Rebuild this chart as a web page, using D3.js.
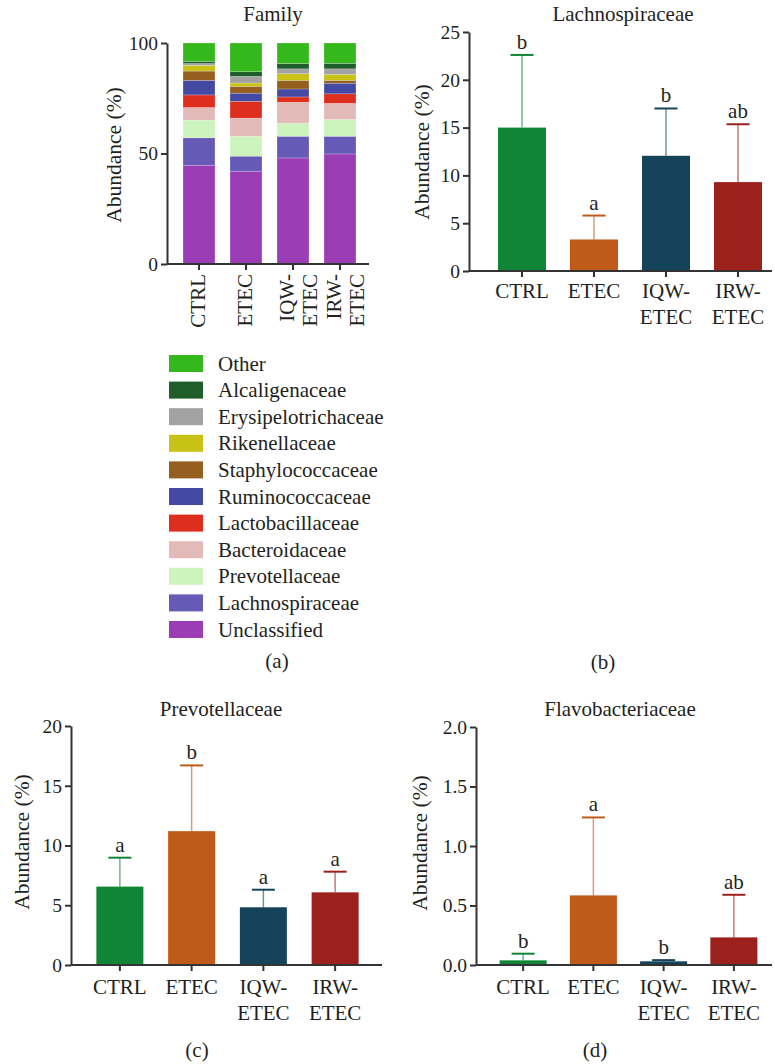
<!DOCTYPE html>
<html>
<head>
<meta charset="utf-8">
<script src="https://cdn.jsdelivr.net/npm/d3@7"></script>
<style>
  body { margin: 0; background: #fff; }
  text { font-family: "Liberation Serif", "DejaVu Serif", serif; fill: #231f20; }
</style>
</head>
<body>
<div id="chart"></div>
<script>
// groups shown on every panel
var groups = ["CTRL", "ETEC", "IQW-ETEC", "IRW-ETEC"];
var groupLines = [["CTRL"], ["ETEC"], ["IQW-", "ETEC"], ["IRW-", "ETEC"]];
var groupColors = ["#0f8535", "#c05a18", "#15445a", "#9c211d"];

// (a) family composition, bottom to top
var families = ["Unclassified", "Lachnospiraceae", "Prevotellaceae", "Bacteroidaceae",
    "Lactobacillaceae", "Ruminococcaceae", "Staphylococcaceae", "Rikenellaceae",
    "Erysipelotrichaceae", "Alcaligenaceae", "Other"];
var familyColors = ["#9b3db5", "#655ab5", "#cdf4bd", "#e2bab7", "#dd2e1e", "#444aa4",
    "#95601f", "#c8c216", "#a3a2a3", "#1f5e2a", "#35b81b"];
var ctrlFamily = [44.7, 12.4, 8.0, 5.7, 5.7, 6.6, 4.2, 2.6, 0.8, 1.0, 8.3];
var etecFamily = [42.0, 6.8, 9.0, 8.2, 7.6, 3.7, 3.1, 1.5, 3.0, 2.1, 13.0];
var iqwFamily  = [48.0, 9.8, 5.9, 9.5, 2.4, 3.6, 3.9, 3.0, 2.2, 2.4, 9.3];
var irwFamily  = [49.8, 8.0, 7.6, 7.3, 4.3, 4.8, 1.3, 2.7, 2.5, 2.5, 9.2];
var familyTicks = [0, 50, 100];

// (b) Lachnospiraceae
var lachnoMean = [15.0, 3.3, 12.05, 9.3];
var lachnoSD = [7.6, 2.5, 4.95, 6.05];
var lachnoLetters = ["b", "a", "b", "ab"];
var lachnoTicks = [0, 5, 10, 15, 20, 25];

// (c) Prevotellaceae
var prevoMean = [6.56, 11.2, 4.83, 6.08];
var prevoSD = [2.42, 5.5, 1.47, 1.73];
var prevoLetters = ["a", "b", "a", "a"];
var prevoTicks = [0, 5, 10, 15, 20];

// (d) Flavobacteriaceae
var flavoMean = [0.039, 0.585, 0.031, 0.232];
var flavoSD = [0.056, 0.655, 0.01, 0.358];
var flavoLetters = ["b", "a", "b", "ab"];
var flavoTicks = [0, 0.5, 1.0, 1.5, 2.0];

var svg = d3.select("#chart")
    .append("svg")
    .attr("width", 775)
    .attr("height", 1064);

var axisColor = "#333";

function drawAxes(p, y, x, ticks, fmt) {
    var g = svg.append("g");
    // y axis
    var ya = g.append("g")
        .attr("transform", "translate(" + p.left + ",0)")
        .call(d3.axisLeft(y).tickValues(ticks).tickFormat(fmt).tickSize(6).tickSizeOuter(0));
    ya.select(".domain").attr("stroke", axisColor).attr("stroke-width", 2);
    ya.selectAll(".tick line").attr("stroke", axisColor).attr("stroke-width", 2);
    ya.selectAll(".tick text")
        .attr("font-size", 19.5)
        .attr("fill", "#231f20")
        .style("font-family", "Liberation Serif");
    // x axis
    var xa = g.append("g")
        .attr("transform", "translate(0," + y(0) + ")")
        .call(d3.axisBottom(x).tickFormat("").tickSize(6).tickSizeOuter(0));
    xa.select(".domain")
        .attr("d", "M" + p.left + ",0H" + p.right)
        .attr("stroke", axisColor).attr("stroke-width", 2);
    xa.selectAll(".tick line").attr("stroke", axisColor).attr("stroke-width", 2);
    // titles
    g.append("text")
        .attr("x", p.titleX).attr("y", p.titleY)
        .attr("text-anchor", "middle")
        .attr("font-size", 21)
        .text(p.title);
    g.append("text")
        .attr("transform", "translate(" + p.labelX + "," + p.labelY + ") rotate(-90)")
        .attr("text-anchor", "middle")
        .attr("font-size", 21.5)
        .text("Abundance (%)");
    g.append("text")
        .attr("x", p.tagX).attr("y", p.tagY)
        .attr("text-anchor", "middle")
        .attr("font-size", 21)
        .text(p.tag);
    return g;
}

function drawBarPanel(p, mean, sd, letters, ticks, fmt) {
    var y = d3.scaleLinear().domain(p.domain).range([p.bottom, p.top]);
    var x = d3.scaleBand().domain(groups).range(p.xRange)
        .paddingInner(p.padIn).paddingOuter(p.padIn / 2);
    var g = drawAxes(p, y, x, ticks, fmt);

    var bars = g.selectAll(".bar")
        .data(groups)
        .enter().append("g");

    // whisker (upper SD only)
    bars.append("line")
        .attr("x1", function(d) { return x(d) + x.bandwidth() / 2; })
        .attr("x2", function(d) { return x(d) + x.bandwidth() / 2; })
        .attr("y1", function(d, i) { return y(mean[i]); })
        .attr("y2", function(d, i) { return y(mean[i] + sd[i]); })
        .attr("stroke", function(d, i) { return groupColors[i]; })
        .attr("stroke-opacity", 0.6)
        .attr("stroke-width", 1.5);
    bars.append("line")
        .attr("x1", function(d) { return x(d) + x.bandwidth() / 2 - 11.5; })
        .attr("x2", function(d) { return x(d) + x.bandwidth() / 2 + 11.5; })
        .attr("y1", function(d, i) { return y(mean[i] + sd[i]); })
        .attr("y2", function(d, i) { return y(mean[i] + sd[i]); })
        .attr("stroke", function(d, i) { return groupColors[i]; })
        .attr("stroke-width", 2);

    bars.append("rect")
        .attr("x", function(d) { return x(d); })
        .attr("width", x.bandwidth())
        .attr("y", function(d, i) { return y(mean[i]); })
        .attr("height", function(d, i) { return y(0) - y(mean[i]); })
        .attr("fill", function(d, i) { return groupColors[i]; });

    bars.append("text")
        .attr("x", function(d) { return x(d) + x.bandwidth() / 2; })
        .attr("y", function(d, i) { return y(mean[i] + sd[i]) - 6; })
        .attr("text-anchor", "middle")
        .attr("font-size", 21)
        .text(function(d, i) { return letters[i]; });

    // category labels
    groups.forEach(function(d, i) {
        var t = g.append("text")
            .attr("text-anchor", "middle")
            .attr("font-size", 21);
        groupLines[i].forEach(function(line, k) {
            t.append("tspan")
                .attr("x", x(d) + x.bandwidth() / 2)
                .attr("y", p.catY + k * 26)
                .text(line);
        });
    });

    // redraw x axis line on top so it covers bar bottoms
    g.append("line")
        .attr("x1", p.left).attr("x2", p.right)
        .attr("y1", y(0)).attr("y2", y(0))
        .attr("stroke", axisColor).attr("stroke-width", 2);
}

// ---- (a) stacked family chart
var pa = { left: 167, right: 369, top: 43, bottom: 264, domain: [0, 100],
    xRange: [175.5, 363.5], padIn: 0.32,
    title: "Family", titleX: 273, titleY: 21, labelX: 121, labelY: 155,
    tag: "(a)", tagX: 277, tagY: 668 };
var famData = [ctrlFamily, etecFamily, iqwFamily, irwFamily];
var ya = d3.scaleLinear().domain(pa.domain).range([pa.bottom, pa.top]);
var xa = d3.scaleBand().domain(groups).range(pa.xRange)
    .paddingInner(pa.padIn).paddingOuter(pa.padIn / 2);

var stackRows = groups.map(function(gName, i) {
    var row = { group: gName };
    families.forEach(function(f, k) { row[f] = famData[i][k]; });
    return row;
});
var series = d3.stack().keys(families)(stackRows);

var ga = drawAxes(pa, ya, xa, familyTicks, d3.format("d"));
ga.selectAll(".layer")
    .data(series)
    .enter().append("g")
    .attr("fill", function(d, i) { return familyColors[i]; })
    .selectAll("rect")
    .data(function(d) { return d; })
    .enter().append("rect")
    .attr("x", function(d) { return xa(d.data.group); })
    .attr("width", xa.bandwidth())
    .attr("y", function(d) { return ya(d[1]); })
    .attr("height", function(d) { return ya(d[0]) - ya(d[1]); })
    .attr("stroke", "#fff")
    .attr("stroke-opacity", 0.35)
    .attr("stroke-width", 0.6);

groups.forEach(function(d, i) {
    var cx = xa(d) + xa.bandwidth() / 2;
    groupLines[i].forEach(function(line, k) {
        var off = groupLines[i].length === 1 ? 6 : (k === 0 ? 1 : 24);
        ga.append("text")
            .attr("transform", "translate(" + (cx + off) + ",274) rotate(-90)")
            .attr("text-anchor", "end")
            .attr("font-size", 21)
            .text(line);
    });
});
ga.append("line")
    .attr("x1", pa.left).attr("x2", pa.right)
    .attr("y1", ya(0)).attr("y2", ya(0))
    .attr("stroke", axisColor).attr("stroke-width", 2);

// legend, top entry is "Other"
var legendOrder = families.slice().reverse();
var legendColors = familyColors.slice().reverse();
var leg = svg.append("g").attr("transform", "translate(169,355)");
legendOrder.forEach(function(f, i) {
    var row = leg.append("g").attr("transform", "translate(0," + (i * 26.6) + ")");
    row.append("rect")
        .attr("width", 34).attr("height", 17)
        .attr("fill", legendColors[i]);
    row.append("text")
        .attr("x", 49).attr("y", 15.5)
        .attr("font-size", 21)
        .text(f);
});

// ---- (b)
drawBarPanel({ left: 469, right: 772, top: 32, bottom: 271, domain: [0, 25],
    xRange: [486, 774], padIn: 1 / 3, catY: 298,
    title: "Lachnospiraceae", titleX: 623, titleY: 21, labelX: 429, labelY: 152,
    tag: "(b)", tagX: 603, tagY: 669 },
    lachnoMean, lachnoSD, lachnoLetters, lachnoTicks, d3.format("d"));

// ---- (c)
drawBarPanel({ left: 71, right: 382, top: 726, bottom: 965, domain: [0, 20],
    xRange: [84, 371], padIn: 0.345, catY: 994,
    title: "Prevotellaceae", titleX: 221, titleY: 716, labelX: 29, labelY: 842,
    tag: "(c)", tagX: 197, tagY: 1057 },
    prevoMean, prevoSD, prevoLetters, prevoTicks, d3.format("d"));

// ---- (d)
drawBarPanel({ left: 476, right: 772, top: 727, bottom: 965, domain: [0, 2],
    xRange: [488, 769], padIn: 0.33, catY: 994,
    title: "Flavobacteriaceae", titleX: 620, titleY: 716, labelX: 427, labelY: 843,
    tag: "(d)", tagX: 595, tagY: 1057 },
    flavoMean, flavoSD, flavoLetters, flavoTicks, d3.format(".1f"));
</script>
</body>
</html>
